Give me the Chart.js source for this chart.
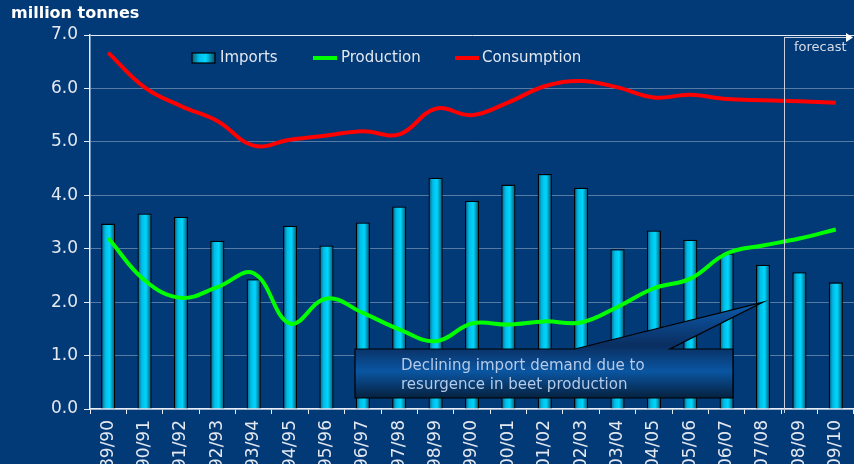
<!DOCTYPE html>
<html>
<head>
<meta charset="utf-8">
<script src="https://cdn.jsdelivr.net/npm/chart.js@4"></script>
<style>
  body { margin: 0; background: #023a78; }
  #wrap { width: 854px; height: 464px; }
</style>
</head>
<body>
<div id="wrap"><canvas id="chart" width="854" height="464"></canvas></div>
<script>
// marketing years
const seasons = ["89/90","90/91","91/92","92/93","93/94","94/95","95/96","96/97","97/98","98/99","99/00",
                 "00/01","01/02","02/03","03/04","04/05","05/06","06/07","07/08","08/09","09/10"];
// million tonnes
const imports = [3.47, 3.66, 3.60, 3.15, 2.43, 3.43, 3.06, 3.49, 3.79, 4.33, 3.90,
                 4.20, 4.40, 4.14, 2.99, 3.34, 3.17, 2.91, 2.70, 2.56, 2.37];
const production = [3.20, 2.41, 2.08, 2.28, 2.54, 1.60, 2.07, 1.80, 1.49, 1.27, 1.60,
                    1.58, 1.64, 1.62, 1.91, 2.26, 2.44, 2.91, 3.06, 3.19, 3.36];
const consumption = [6.67, 6.02, 5.67, 5.39, 4.93, 5.04, 5.12, 5.20, 5.14, 5.62, 5.50,
                     5.74, 6.04, 6.14, 6.02, 5.83, 5.88, 5.80, 5.78, 5.76, 5.73];
const yTicks = [0, 1, 2, 3, 4, 5, 6, 7];

const bg = '#023a78';
const txt = '#e4e8f0';
const font = 'DejaVu Sans, Verdana, sans-serif';

function barGradient(ctx, x0, x1) {
  const g = ctx.createLinearGradient(x0, 0, x1, 0);
  g.addColorStop(0, '#0a5a78');
  g.addColorStop(0.3, '#00bde8');
  g.addColorStop(0.6, '#00d6fc');
  g.addColorStop(1, '#0a4c68');
  return g;
}

// background, title, legend, forecast marker and callout
const extras = {
  id: 'extras',
  beforeDraw(chart) {
    const c = chart.ctx;
    c.save();
    c.fillStyle = bg;
    c.fillRect(0, 0, chart.width, chart.height);
    c.restore();
  },
  afterDraw(chart) {
    const c = chart.ctx;
    const xs = chart.scales.x, ys = chart.scales.y;
    c.save();

    // title
    c.fillStyle = '#ffffff';
    c.font = 'bold 16px ' + font;
    c.textBaseline = 'middle';
    c.fillText('million tonnes', 11, 14);

    // legend
    c.font = '15px ' + font;
    c.fillStyle = barGradient(c, 192, 215);
    c.fillRect(192, 53, 23, 10);
    c.strokeStyle = '#000';
    c.lineWidth = 1.2;
    c.strokeRect(192, 53, 23, 10);
    c.fillStyle = txt;
    c.fillText('Imports', 220, 58);
    c.fillStyle = '#00ff00';
    c.fillRect(313, 56, 24, 4);
    c.fillStyle = txt;
    c.fillText('Production', 341, 58);
    c.fillStyle = '#ff0000';
    c.fillRect(455, 56, 24, 4);
    c.fillStyle = txt;
    c.fillText('Consumption', 482, 58);

    // forecast marker
    const fx = Math.round((xs.getPixelForValue(18) + xs.getPixelForValue(19)) / 2 + 3);
    c.strokeStyle = '#c8cede';
    c.lineWidth = 1;
    c.beginPath();
    c.moveTo(fx + 0.5, 37);
    c.lineTo(fx + 0.5, ys.bottom + 4);
    c.moveTo(fx, 37.5);
    c.lineTo(chart.width - 6, 37.5);
    c.stroke();
    c.fillStyle = '#ffffff';
    c.beginPath();
    c.moveTo(chart.width - 8, 33);
    c.lineTo(chart.width - 1, 37.5);
    c.lineTo(chart.width - 8, 42);
    c.closePath();
    c.fill();
    c.fillStyle = '#d8dce8';
    c.font = '13px ' + font;
    c.fillText('forecast', fx + 10, 48);

    // callout
    const tipX = xs.getPixelForValue(18), tipY = ys.getPixelForValue(2.0);
    const bx0 = 355, by0 = 349, bx1 = 733, by1 = 398;
    c.strokeStyle = '#000';
    c.lineWidth = 1.2;
    c.beginPath();
    c.moveTo(bx0, by0);
    c.lineTo(575, by0);
    c.lineTo(tipX, tipY);
    c.lineTo(670, by0);
    c.lineTo(bx1, by0);
    c.lineTo(bx1, by1);
    c.lineTo(bx0, by1);
    c.closePath();
    const g = c.createLinearGradient(0, tipY, 0, by1);
    g.addColorStop(0, '#0c5cae');
    g.addColorStop(0.45, '#0a2e60');
    g.addColorStop(0.72, '#0a56a2');
    g.addColorStop(1, '#06213f');
    c.fillStyle = g;
    c.fill();
    c.stroke();
    c.fillStyle = '#b4cae8';
    c.font = '15px ' + font;
    c.textBaseline = 'alphabetic';
    c.fillText('Declining import demand due to', 401, 370);
    c.fillText('resurgence in beet production', 401, 389);

    c.restore();
  }
};

new Chart(document.getElementById('chart'), {
  data: {
    labels: seasons,
    datasets: [
      {
        type: 'line',
        label: 'Consumption',
        data: consumption,
        borderColor: '#ff0000',
        borderWidth: 4,
        pointRadius: 0,
        tension: 0.4,
        order: 1
      },
      {
        type: 'line',
        label: 'Production',
        data: production,
        borderColor: '#00ff00',
        borderWidth: 4,
        pointRadius: 0,
        tension: 0.4,
        order: 2
      },
      {
        type: 'bar',
        label: 'Imports',
        data: imports,
        backgroundColor: function (ctx) {
          const chart = ctx.chart;
          if (!chart.chartArea || !chart.scales.x) return '#00c8f0';
          const x = chart.scales.x.getPixelForValue(ctx.dataIndex);
          return barGradient(chart.ctx, x - 7, x + 7);
        },
        borderColor: '#000000',
        borderWidth: 1.3,
        barPercentage: 0.39,
        categoryPercentage: 1,
        order: 3
      }
    ]
  },
  options: {
    responsive: false,
    animation: false,
    devicePixelRatio: 1,
    layout: { padding: { top: 35, right: 0, left: 0, bottom: 0 } },
    plugins: {
      legend: { display: false },
      tooltip: { enabled: false }
    },
    scales: {
      x: {
        offset: true,
        grid: {
          offset: true,
          drawOnChartArea: false,
          drawTicks: true,
          tickLength: 5,
          tickColor: '#e8ecf4'
        },
        border: { color: '#e8ecf4', width: 1.5 },
        ticks: {
          autoSkip: false,
          minRotation: 90,
          maxRotation: 90,
          padding: 6,
          color: txt,
          font: { family: font, size: 17, lineHeight: 1 }
        },
        afterFit(scale) {
          scale.height = 55;
          scale.paddingRight = 0;
          scale.paddingLeft = 0;
        }
      },
      y: {
        min: 0,
        max: 7,
        afterBuildTicks(scale) { scale.ticks = yTicks.map(v => ({ value: v })); },
        grid: {
          color: ctx => (ctx.tick && ctx.tick.value === 7 ? '#e8ecf4' : 'rgba(255,255,255,0.33)'),
          lineWidth: 1,
          tickLength: 6,
          tickColor: '#e8ecf4'
        },
        border: { color: '#e8ecf4', width: 1.5 },
        ticks: {
          padding: 6,
          color: txt,
          font: { family: font, size: 17 },
          callback: v => Number(v).toFixed(1)
        },
        afterFit(scale) { scale.width = 90; }
      }
    }
  },
  plugins: [extras]
});
</script>
</body>
</html>
